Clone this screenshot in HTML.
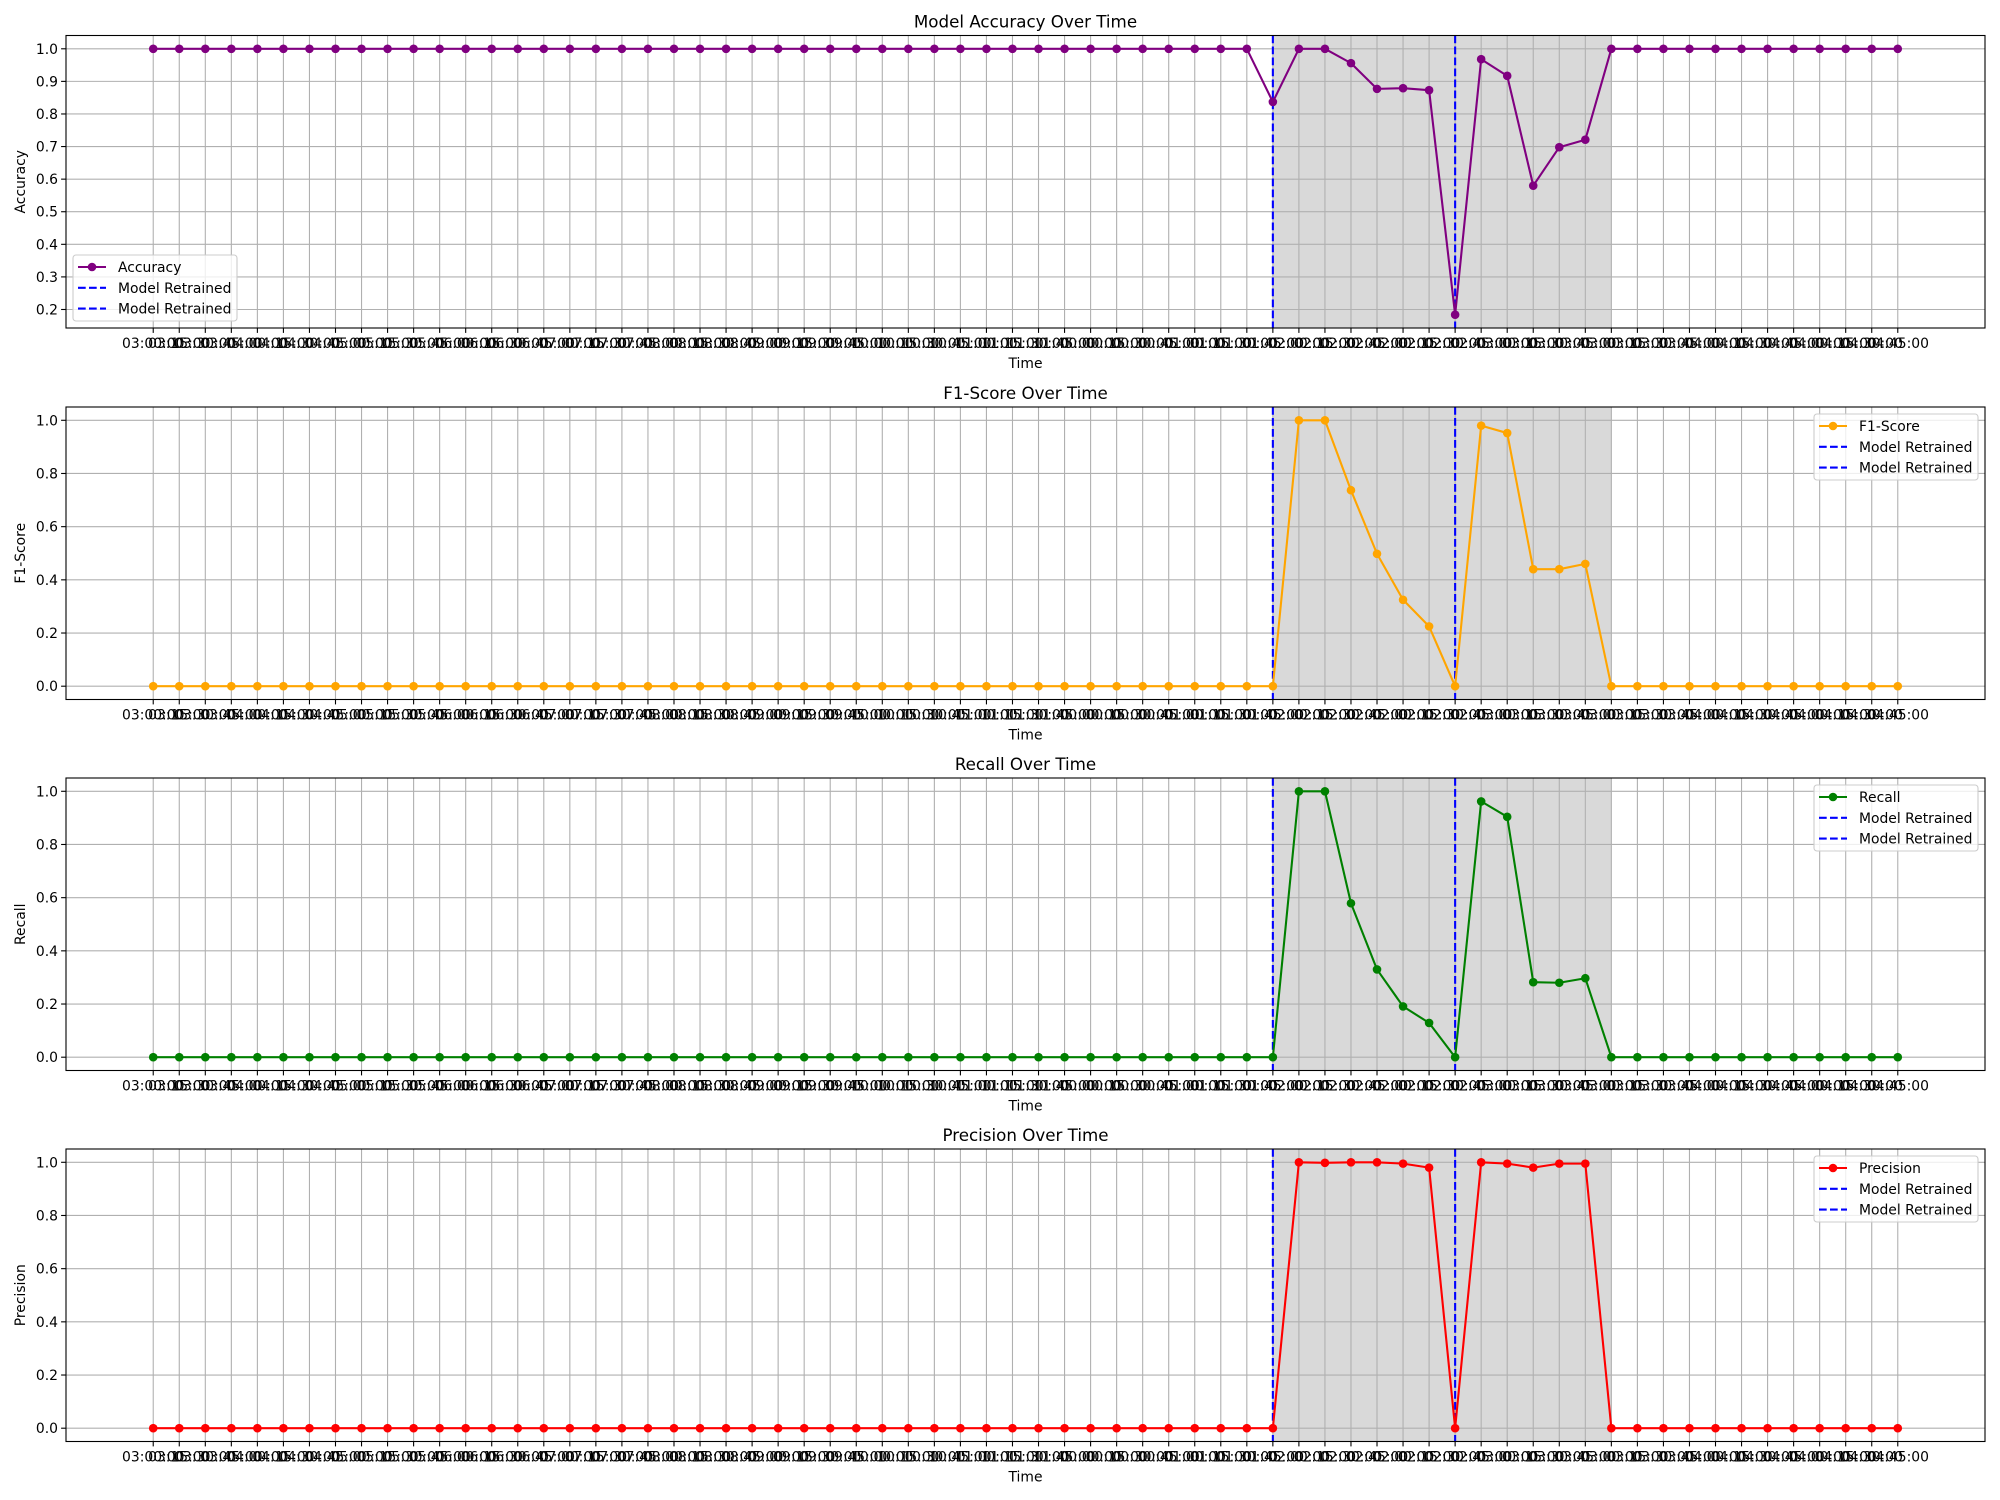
<!DOCTYPE html>
<html><head><meta charset="utf-8">
<style>
html,body{margin:0;padding:0;background:#fff;}
svg{display:block;font-family:"DejaVu Sans","Liberation Sans",sans-serif;}
</style></head>
<body>
<svg id="fig" width="2000" height="1500" viewBox="0 0 2000 1500" xmlns="http://www.w3.org/2000/svg"></svg>
<script>
const timeLabels = ["03:00:00","03:15:00","03:30:00","03:45:00","04:00:00","04:15:00","04:30:00","04:45:00","05:00:00","05:15:00","05:30:00","05:45:00","06:00:00","06:15:00","06:30:00","06:45:00","07:00:00","07:15:00","07:30:00","07:45:00","08:00:00","08:15:00","08:30:00","08:45:00","09:00:00","09:15:00","09:30:00","09:45:00","10:00:00","10:15:00","10:30:00","10:45:00","11:00:00","11:15:00","11:30:00","11:45:00","00:00:00","00:15:00","00:30:00","00:45:00","01:00:00","01:15:00","01:30:00","01:45:00","02:00:00","02:15:00","02:30:00","02:45:00","02:00:00","02:15:00","02:30:00","02:45:00","03:00:00","03:15:00","03:30:00","03:45:00","03:00:00","03:15:00","03:30:00","03:45:00","04:00:00","04:15:00","04:30:00","04:45:00","04:00:00","04:15:00","04:30:00","04:45:00"];
const accuracyValues = [1,1,1,1,1,1,1,1,1,1,1,1,1,1,1,1,1,1,1,1,1,1,1,1,1,1,1,1,1,1,1,1,1,1,1,1,1,1,1,1,1,1,1,0.837,1,1,0.956,0.877,0.879,0.873,0.184,0.968,0.917,0.58,0.698,0.721,1,1,1,1,1,1,1,1,1,1,1,1];
const f1Values = [0,0,0,0,0,0,0,0,0,0,0,0,0,0,0,0,0,0,0,0,0,0,0,0,0,0,0,0,0,0,0,0,0,0,0,0,0,0,0,0,0,0,0,0,1,1,0.737,0.498,0.325,0.225,0,0.98,0.952,0.44,0.44,0.46,0,0,0,0,0,0,0,0,0,0,0,0];
const recallValues = [0,0,0,0,0,0,0,0,0,0,0,0,0,0,0,0,0,0,0,0,0,0,0,0,0,0,0,0,0,0,0,0,0,0,0,0,0,0,0,0,0,0,0,0,1,1,0.579,0.33,0.191,0.129,0,0.962,0.904,0.282,0.28,0.297,0,0,0,0,0,0,0,0,0,0,0,0];
const precisionValues = [0,0,0,0,0,0,0,0,0,0,0,0,0,0,0,0,0,0,0,0,0,0,0,0,0,0,0,0,0,0,0,0,0,0,0,0,0,0,0,0,0,0,0,0,1,0.998,1,1,0.995,0.98,0,1,0.995,0.98,0.995,0.995,0,0,0,0,0,0,0,0,0,0,0,0];
const retrainIdx = [43, 50];
const shadeRange = [43, 56];
const accTicks = [0.2,0.3,0.4,0.5,0.6,0.7,0.8,0.9,1.0];
const unitTicks = [0.0,0.2,0.4,0.6,0.8,1.0];

const NS = "http://www.w3.org/2000/svg";
const fig = document.getElementById('fig');
function mk(tag, attrs, parent){const e=document.createElementNS(NS,tag);for(const k in attrs)e.setAttribute(k,attrs[k]);(parent||fig).appendChild(e);return e;}

const L = 66, R = 1985;
const panels = [
 {name:'accuracy', title:'Model Accuracy Over Time', ylabel:'Accuracy', vals:accuracyValues, color:'purple', top:35.5, ticks:accTicks, dec:1, legend:'ll'},
 {name:'f1', title:'F1-Score Over Time', ylabel:'F1-Score', vals:f1Values, color:'orange', top:407, ticks:unitTicks, dec:1, legend:'ur'},
 {name:'recall', title:'Recall Over Time', ylabel:'Recall', vals:recallValues, color:'green', top:778, ticks:unitTicks, dec:1, legend:'ur'},
 {name:'precision', title:'Precision Over Time', ylabel:'Precision', vals:precisionValues, color:'red', top:1149, ticks:unitTicks, dec:1, legend:'ur'}
];
const H = 292.5;
const n = timeLabels.length;
const xmin = -0.05*(n-1), xmax = (n-1)*1.05;
function xs(i){return L + (i - xmin)/(xmax-xmin)*(R-L);}

panels.forEach(p=>{
  const g = mk('g',{});
  
  
  const T = p.top, B = p.top + H;
  const mn = Math.min(...p.vals), mx = Math.max(...p.vals);
  const pad = (mx-mn)*0.05;
  const y0 = mn - pad, y1 = mx + pad;
  const ys = v => B - (v - y0)/(y1-y0)*H;
  // shade
  const sh = mk('rect',{x:xs(shadeRange[0]),y:T,width:xs(shadeRange[1])-xs(shadeRange[0]),height:H,fill:'#d9d9d9'},g);
  
  
  // grid
  for(let i=0;i<n;i++){
    const x=xs(i);
    mk('line',{x1:x,x2:x,y1:T,y2:B,stroke:'#b0b0b0','stroke-width':1.1},g);
    mk('line',{x1:x,x2:x,y1:B,y2:B+4.9,stroke:'#000','stroke-width':1.1},g);
    const t = mk('text',{x:x,y:B+20,'font-size':13.9,'text-anchor':'middle',fill:'#000'},g);
    t.textContent = timeLabels[i];
    
    
  }
  p.ticks.forEach(v=>{
    const y=ys(v);
    mk('line',{x1:L,x2:R,y1:y,y2:y,stroke:'#b0b0b0','stroke-width':1.1},g);
    mk('line',{x1:L-4.9,x2:L,y1:y,y2:y,stroke:'#000','stroke-width':1.1},g);
    const t = mk('text',{x:L-8,y:y+5,'font-size':13.9,'text-anchor':'end',fill:'#000'},g);
    t.textContent = v.toFixed(p.dec);
    
    
  });
  // retrain lines
  retrainIdx.forEach(i=>{
    const l = mk('line',{x1:xs(i),x2:xs(i),y1:T,y2:B,stroke:'blue','stroke-width':2.1,'stroke-dasharray':'7.7,3.3'},g);
    
    
  });
  // series
  const pts = p.vals.map((v,i)=>xs(i).toFixed(2)+','+ys(v).toFixed(2)).join(' ');
  const pl = mk('polyline',{points:pts,fill:'none',stroke:p.color,'stroke-width':2.1,'stroke-linejoin':'round'},g);
  
  
  p.vals.forEach((v,i)=>{
    const c = mk('circle',{cx:xs(i),cy:ys(v),r:4.3,fill:p.color},g);
    
    
  });
  // frame
  mk('rect',{x:L,y:T,width:R-L,height:H,fill:'none',stroke:'#000','stroke-width':1.1},g);
  // title
  const tt = mk('text',{x:(L+R)/2,y:T-8,'font-size':16.7,'text-anchor':'middle',fill:'#000'},g);
  tt.textContent = p.title;
  
  
  const xl = mk('text',{x:(L+R)/2,y:B+40,'font-size':13.9,'text-anchor':'middle',fill:'#000'},g);
  xl.textContent = 'Time';
  
  
  const yl = mk('text',{x:0,y:0,'font-size':13.9,'text-anchor':'middle',fill:'#000',transform:`translate(25,${(T+B)/2}) rotate(-90)`},g);
  yl.textContent = p.ylabel;
  
  
  // legend
  const lw = 164, lh = 66;
  const lx = p.legend==='ll' ? L+7 : R-7-lw;
  const ly = p.legend==='ll' ? B-7-lh : T+7;
  const lg = mk('g',{},g);
  
  
  mk('rect',{x:lx,y:ly,width:lw,height:lh,rx:3,fill:'#fff','fill-opacity':0.8,stroke:'#cccccc','stroke-width':1.1},lg);
  const entries = [p.vals===accuracyValues?'Accuracy':(p.ylabel), 'Model Retrained','Model Retrained'];
  entries.forEach((lab,k)=>{
    const ey = ly+12+k*20.8;
    if(k===0){
      mk('line',{x1:lx+5,x2:lx+33,y1:ey,y2:ey,stroke:p.color,'stroke-width':2.1},lg);
      mk('circle',{cx:lx+19,cy:ey,r:4.3,fill:p.color},lg);
    } else {
      mk('line',{x1:lx+5,x2:lx+33,y1:ey,y2:ey,stroke:'blue','stroke-width':2.1,'stroke-dasharray':'7.7,3.3'},lg);
    }
    const t = mk('text',{x:lx+45,y:ey+5,'font-size':13.9,fill:'#000'},lg);
    t.textContent = lab;
    
    
  });
});
</script>
</body></html>
